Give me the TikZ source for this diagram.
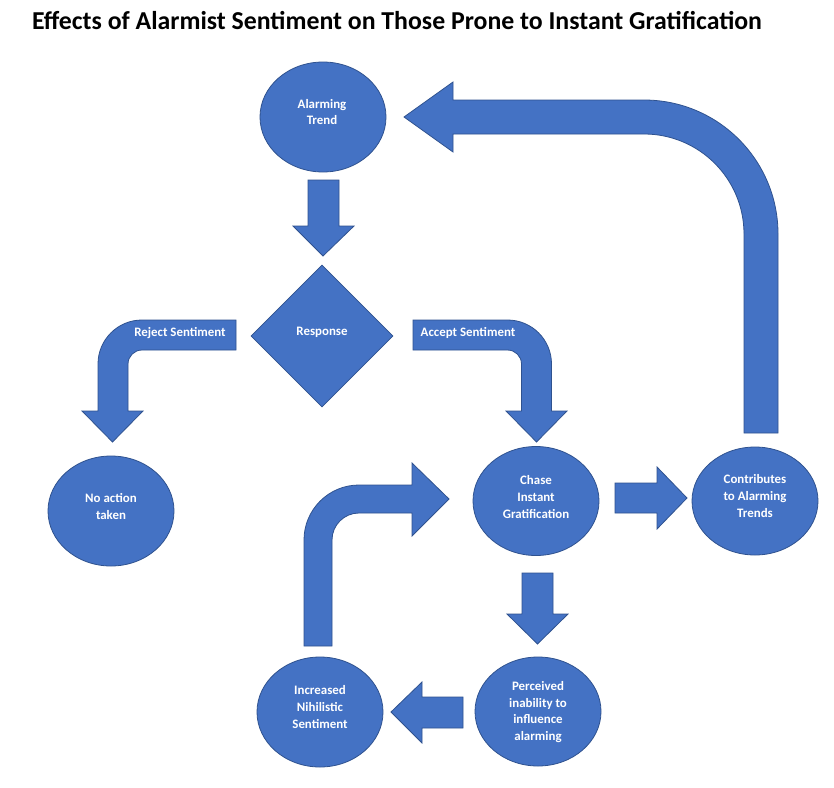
\documentclass[tikz,border=0pt]{standalone}
\usepackage{fontspec}
\setmainfont{Carlito}
\usetikzlibrary{shapes.geometric}
\definecolor{shapefill}{HTML}{4472C4}
\definecolor{shapeline}{HTML}{2F528F}
\tikzset{
  blockarrow/.style={fill=shapefill, draw=shapeline, line width=0.8pt, line join=miter},
  ell/.style={ellipse, fill=shapefill, draw=shapeline, line width=0.8pt, inner sep=0pt},
  lbl/.style={text=white, font=\fontsize{12.9}{16.8}\selectfont\bfseries, align=center, inner sep=0pt},
}
\begin{document}
\begin{tikzpicture}[x=1pt,y=-1pt]
\useasboundingbox (0,0) rectangle (834,787);
\fill[white] (0,0) rectangle (834,787);

% title
\node[anchor=base, font=\fontsize{25.8}{30}\selectfont\bfseries, inner sep=0pt] (title) at (397,29)
  {Effects of Alarmist Sentiment on Those Prone to Instant Gratification};

% Alarming Trend -> Response
\draw[blockarrow] (308,180) -- (339,180) -- (339,226) -- (354,226) -- (323,256) -- (293,226) -- (308,226) -- cycle;

% Reject sentiment bent arrow
\draw[blockarrow] (236,320) -- (142,320) arc[start angle=-90, end angle=-180, radius=44]
  -- (98,411) -- (82,411) -- (112.5,442) -- (143,411) -- (128,411) -- (128,364)
  arc[start angle=180, end angle=270, radius=14] -- (236,350) -- cycle;

% Accept sentiment bent arrow
\draw[blockarrow] (413,320) -- (507.5,320) arc[start angle=-90, end angle=0, radius=44]
  -- (551.5,411) -- (567,411) -- (536.5,442) -- (506,411) -- (521.5,411) -- (521.5,364)
  arc[start angle=0, end angle=-90, radius=14] -- (413,350) -- cycle;

% Chase -> Contributes
\draw[blockarrow] (615,483) -- (657,483) -- (657,467) -- (687,498) -- (657,529) -- (657,513) -- (615,513) -- cycle;

% Chase -> Perceived
\draw[blockarrow] (522,573) -- (553,573) -- (553,614) -- (568,614) -- (537.5,644) -- (507,614) -- (522,614) -- cycle;

% Perceived -> Increased
\draw[blockarrow] (463,697) -- (463,728) -- (422,728) -- (422,743) -- (391,712) -- (422,682) -- (422,697) -- cycle;

% Increased -> Chase bent arrow
\draw[blockarrow] (304,646) -- (304,540) arc[start angle=180, end angle=270, radius=55]
  -- (412,485) -- (412,463) -- (449,499) -- (412,536) -- (412,513) -- (359,513)
  arc[start angle=270, end angle=180, radius=27] -- (332,646) -- cycle;

% Contributes -> Alarming Trend big bent arrow
\draw[blockarrow] (778,433) -- (778,234) arc[start angle=0, end angle=-90, radius=134]
  -- (453,100) -- (453,82) -- (404,117) -- (453,152) -- (453,134) -- (644,134)
  arc[start angle=-90, end angle=0, radius=100] -- (744,433) -- cycle;

% diamond
\node[diamond, fill=shapefill, draw=shapeline, line width=0.8pt, inner sep=0pt,
      minimum width=142pt, minimum height=142pt] (resp) at (322,336) {};
\node[lbl] (resptxt) at (322,332) {Response};

% ellipses
\node[ell, minimum width=126pt, minimum height=110pt] (alarm) at (323,117) {};
\node[lbl] (alarmtxt) at (322,112) {Alarming\\Trend};

\node[ell, minimum width=126pt, minimum height=110pt] (noact) at (111,511) {};
\node[lbl] (noacttxt) at (111,506.5) {No action\\taken};

\node[ell, minimum width=126pt, minimum height=109pt] (chase) at (536,501) {};
\node[lbl] (chasetxt) at (536,497) {Chase\\Instant\\Gratification};

\node[ell, minimum width=126pt, minimum height=108pt] (contrib) at (755,501) {};
\node[lbl] (contribtxt) at (755,496) {Contributes\\to Alarming\\Trends};

\node[ell, minimum width=126pt, minimum height=109pt] (perc) at (538,711.5) {};
\node[lbl] (perctxt) at (538,712) {Perceived\\inability to\\influence\\alarming};

\node[ell, minimum width=126pt, minimum height=110pt] (incr) at (320,712) {};
\node[lbl] (incrtxt) at (320,707) {Increased\\Nihilistic\\Sentiment};

% arrow labels
\node[lbl] (rejtxt) at (180,333) {Reject Sentiment};
\node[lbl] (acctxt) at (468,333) {Accept Sentiment};
\end{tikzpicture}
\end{document}
